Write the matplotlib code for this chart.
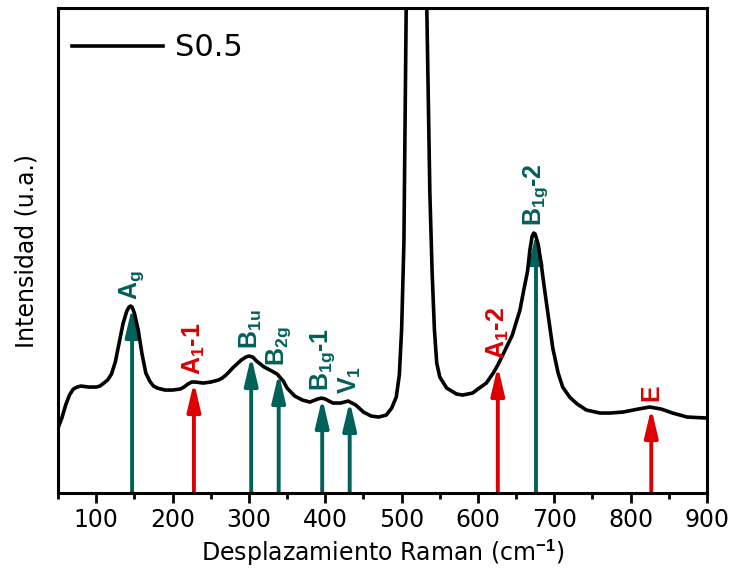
"""
Raman spectrum S0.5 with mode assignments
"""
import numpy as np
import matplotlib
matplotlib.use('Agg')
from matplotlib import pyplot as plt
from matplotlib.ticker import MultipleLocator

plt.rcParams['mathtext.fontset'] = 'custom'
plt.rcParams['mathtext.rm'] = 'Liberation Sans:bold'
plt.rcParams['mathtext.it'] = 'Liberation Sans:bold'
plt.rcParams['mathtext.bf'] = 'Liberation Sans:bold'

## Spectrum (arbitrary units)
shift = [50, 55, 60, 65, 70, 75, 80, 90, 100, 105, 110, 115, 120, 125, 130,
         135, 140, 143, 145, 147, 150, 155, 160, 165, 170, 175, 180, 190,
         200, 210, 215, 220, 225, 230, 240, 250, 260, 265, 270, 280, 290,
         296, 300, 305, 310, 320, 330, 337, 345, 350, 360, 370, 380, 390,
         395, 400, 410, 420, 430, 440, 450, 460, 470, 480, 487, 493, 497,
         500, 503, 506, 508, 510, 512, 515, 518, 520, 522, 525, 528, 530,
         533, 537, 540, 543, 546, 550, 559, 572, 580, 593, 600, 611, 620,
         626, 635, 645, 655, 660, 665, 668, 671, 673, 675, 679, 683, 687,
         691, 698, 705, 711, 720, 730, 742, 760, 773, 790, 810, 825, 840,
         855, 874, 900]
intensity = [65, 75, 88, 98, 104, 106, 107, 106, 106, 107, 110, 113, 119,
             131, 150, 169, 182, 186, 187, 186, 180, 163, 139, 120, 112,
             107, 105, 103, 103, 104, 106, 109, 111, 111, 110, 111, 113,
             115, 118, 126, 133, 136, 137, 136, 132, 126, 122, 119, 112,
             105, 97, 93, 91, 94, 95, 94, 90, 90, 92, 88, 81, 77, 76, 78,
             85, 96, 118, 163, 250, 485, 600, 700, 780, 850, 890, 900, 890,
             850, 760, 650, 485, 300, 220, 163, 130, 116, 105, 99, 98, 100,
             104, 110, 120, 128, 142, 158, 183, 203, 222, 243, 257, 260,
             259, 248, 228, 205, 183, 145, 120, 106, 96, 89, 83, 80, 80, 81,
             84, 86, 84, 80, 76, 75]

## Mode assignments
mode_labels = ['A$_{g}$', 'A$_{1}$-1', 'B$_{1u}$', 'B$_{2g}$', 'B$_{1g}$-1',
               'V$_{1}$', 'A$_{1}$-2', 'B$_{1g}$-2', 'E']
mode_pos = [147, 228, 303, 339, 396, 432, 626, 676, 827]
mode_height = [186, 111, 137, 120, 95, 92, 127, 260, 85]
mode_kind = ['g', 'r', 'g', 'g', 'g', 'g', 'r', 'g', 'r']

teal = '#00605A'
red = '#DD0000'
colors = {'g': teal, 'r': red}

fig = plt.figure(figsize=(7.3, 5.78), dpi=100)
ax = fig.add_axes([0.0795, 0.147, 0.889, 0.839])

# Arrows first so the curve sits on top
for lab, xp, h, k in zip(mode_labels, mode_pos, mode_height, mode_kind):
    c = colors[k]
    ax.annotate('', xy=(xp, h), xytext=(xp, 0),
                arrowprops=dict(arrowstyle='-|>,head_length=0.85,head_width=0.2',
                                color=c, lw=2.8, mutation_scale=20,
                                shrinkA=0, shrinkB=0), zorder=2)
    ax.annotate(lab, xy=(xp, h), xytext=(0, 5), textcoords='offset points',
                rotation=90, ha='center', va='bottom', color=c,
                fontsize=18, fontweight='bold', family='Liberation Sans',
                zorder=4)

ax.plot(shift, intensity, color='k', lw=2.6, label='S0.5', zorder=3)

ax.set_xlim(50, 900)
ax.set_ylim(0, 485)
ax.xaxis.set_major_locator(MultipleLocator(100))
ax.xaxis.set_minor_locator(MultipleLocator(50))
ax.set_yticks([])
ax.tick_params(axis='x', which='major', direction='out', length=7, width=2,
               labelsize=17, pad=4)
ax.tick_params(axis='x', which='minor', direction='out', length=4, width=2)
for s in ax.spines.values():
    s.set_linewidth(2.2)

ax.set_xlabel('Desplazamiento Raman (cm$^{-1}$)', fontsize=17,
              family='DejaVu Sans')
ax.set_ylabel('Intensidad (u.a.)', fontsize=17, family='DejaVu Sans', labelpad=14)

leg = ax.legend(loc='upper left', bbox_to_anchor=(0.008, 0.967),
                frameon=False, fontsize=22, handlelength=2.95,
                handletextpad=0.4, borderaxespad=0, borderpad=0.3)

fig.savefig('out.png', dpi=100)
